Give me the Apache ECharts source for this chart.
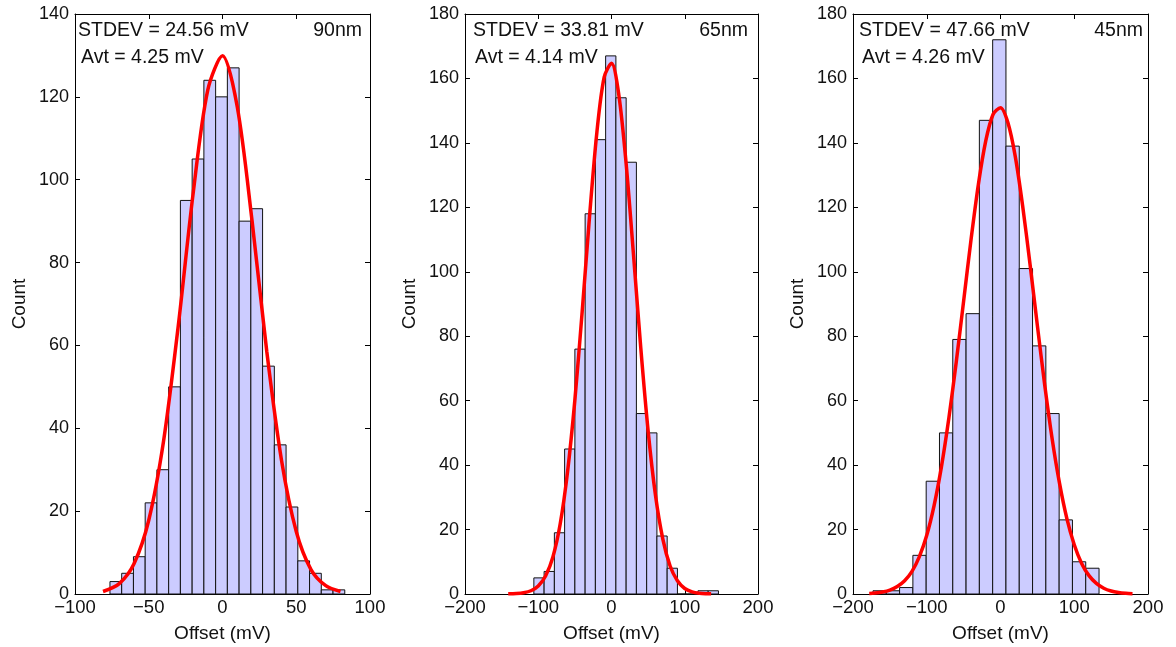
<!DOCTYPE html>
<html><head><meta charset="utf-8">
<script src="https://cdn.jsdelivr.net/npm/echarts@6/dist/echarts.min.js"></script>
<style>html,body{margin:0;padding:0;background:#fff}#c{width:1176px;height:647px}</style>
</head><body><div id="c"></div>
<script>
// ---- data ----
const panelNames = ['90nm', '65nm', '45nm'];
const stdevText = ['STDEV = 24.56 mV', 'STDEV = 33.81 mV', 'STDEV = 47.66 mV'];
const avtText = ['Avt = 4.25 mV', 'Avt = 4.14 mV', 'Avt = 4.26 mV'];
const xAxisTitle = 'Offset (mV)';
const yAxisTitle = 'Count';

const binStart = [-76.3, -106, -172.9];
const binWidth = [7.96, 14.0, 18.03];
const counts90 = [3, 5, 9, 22, 30, 50, 95, 105, 124, 120, 127, 90, 93, 55, 36, 21, 8, 5, 1, 1];
const counts65 = [5, 7, 19, 45, 76, 118, 141, 167, 154, 134, 56, 50, 18, 8, 0, 0, 1, 1];
const counts45 = [1, 1, 2, 12, 35, 50, 79, 87, 147, 172, 139, 101, 77, 56, 23, 10, 8];

const fitX90 = [-81, -70, -60, -50, -40, -30, -20, -10, 0, 10, 20, 30, 40, 50, 60, 70, 80];
const fitY90 = [0.6, 2.5, 7.3, 17.8, 36.8, 64.7, 96.4, 121.6, 129.9, 117.6, 90.2, 58.6, 32.3, 15.1, 5.9, 2.0, 0.6];
const fitX65 = [-141, -130, -120, -110, -100, -90, -80, -70, -60, -50, -40, -30, -20, -10, 0, 10, 20, 30, 40, 50, 60, 70, 80, 90, 100, 110, 120, 130, 136];
const fitY65 = [0.04, 0.13, 0.37, 1.0, 2.5, 5.6, 11.5, 21.8, 37.9, 60.2, 87.7, 117.1, 143.2, 160.4, 164.7, 154.9, 133.5, 105.4, 76.3, 50.6, 30.7, 17.1, 8.7, 4.1, 1.7, 0.68, 0.25, 0.08, 0.04];
const fitX45 = [-178, -170, -160, -150, -140, -130, -120, -110, -100, -90, -80, -70, -60, -50, -40, -30, -20, -10, 0, 10, 20, 30, 40, 50, 60, 70, 80, 90, 100, 110, 120, 130, 140, 150, 160, 170, 179];
const fitY45 = [0.15, 0.30, 0.62, 1.2, 2.3, 4.1, 7.0, 11.6, 18.2, 27.5, 39.6, 54.6, 72.0, 90.9, 109.9, 127.1, 140.6, 148.9, 150.9, 146.3, 135.8, 120.5, 102.4, 83.3, 64.8, 48.2, 34.4, 23.4, 15.3, 9.5, 5.7, 3.3, 1.8, 0.93, 0.47, 0.22, 0.1];

const xMin = [-100, -200, -200];
const xMax = [100, 200, 200];
const xStep = [50, 100, 100];
const yMax = [140, 180, 180];
const yStep = [20, 20, 20];

// ---- chart ----
const counts = [counts90, counts65, counts45];
const fitX = [fitX90, fitX65, fitX45];
const fitY = [fitY90, fitY65, fitY45];

const FONT = '"Liberation Sans", Arial, sans-serif';
const grids = [
  {left: 75, top: 14, width: 295, height: 580},
  {left: 465, top: 14, width: 293, height: 580},
  {left: 853, top: 14, width: 295, height: 580}
];
const fmt = v => String(v).replace('-', '\u2212');

const xAxes = [], yAxes = [], series = [], graphic = [];
const axisLine = {show: true, onZero: false, lineStyle: {color: '#000', width: 1}};
const axisTick = {show: true, inside: true, length: 5, lineStyle: {color: '#000', width: 1}};

for (let i = 0; i < 3; i++) {
  xAxes.push({
    type: 'value', gridIndex: i, position: 'bottom', min: xMin[i], max: xMax[i], interval: xStep[i],
    axisLine, axisTick, splitLine: {show: false},
    axisLabel: {show: true, margin: 4, color: '#111', fontSize: 18.5, fontFamily: FONT, formatter: fmt, showMinLabel: true, showMaxLabel: true},
    name: xAxisTitle, nameLocation: 'middle', nameGap: 30,
    nameTextStyle: {color: '#111', fontSize: 19, fontFamily: FONT}
  });
  xAxes.push({
    type: 'value', gridIndex: i, position: 'top', min: xMin[i], max: xMax[i], interval: xStep[i],
    axisLine, axisTick, splitLine: {show: false}, axisLabel: {show: false}
  });
  yAxes.push({
    type: 'value', gridIndex: i, position: 'left', min: 0, max: yMax[i], interval: yStep[i],
    axisLine, axisTick, splitLine: {show: false},
    axisLabel: {show: true, margin: 6, color: '#111', fontSize: 18, fontFamily: FONT, showMinLabel: true, showMaxLabel: true},
    name: yAxisTitle, nameLocation: 'middle', nameGap: 46, nameRotate: 90,
    nameTextStyle: {color: '#111', fontSize: 19, fontFamily: FONT}
  });
  yAxes.push({
    type: 'value', gridIndex: i, position: 'right', min: 0, max: yMax[i], interval: yStep[i],
    axisLine, axisTick, splitLine: {show: false}, axisLabel: {show: false}
  });

  const bins = counts[i].map((c, k) => [binStart[i] + k * binWidth[i], binStart[i] + (k + 1) * binWidth[i], c]);
  series.push({
    type: 'custom', xAxisIndex: 2 * i, yAxisIndex: 2 * i, data: bins, silent: true,
    renderItem: function (params, api) {
      const p0 = api.coord([api.value(0), api.value(2)]);
      const p1 = api.coord([api.value(1), 0]);
      return {
        type: 'rect',
        shape: {x: p0[0], y: p0[1], width: p1[0] - p0[0], height: p1[1] - p0[1]},
        style: {fill: '#ccccff', stroke: '#111', lineWidth: 1}
      };
    }
  });
  series.push({
    type: 'line', xAxisIndex: 2 * i, yAxisIndex: 2 * i, silent: true,
    data: fitX[i].map((x, k) => [x, fitY[i][k]]),
    symbol: 'none', smooth: 0.3, clip: false,
    lineStyle: {color: '#ff0000', width: 3.5}, z: 5
  });
}

const stdevLeft = [78, 473, 859];
const avtLeft = [81, 475, 862];
const nameRight = [362, 748, 1143];
for (let i = 0; i < 3; i++) {
  graphic.push({type: 'text', x: stdevLeft[i], y: 31, z: 10,
    style: {text: stdevText[i], font: '19.5px ' + FONT, fill: '#111', align: 'left', verticalAlign: 'middle'}});
  graphic.push({type: 'text', x: avtLeft[i], y: 58, z: 10,
    style: {text: avtText[i], font: '19.5px ' + FONT, fill: '#111', align: 'left', verticalAlign: 'middle'}});
  graphic.push({type: 'text', x: nameRight[i], y: 31, z: 10,
    style: {text: panelNames[i], font: '19.5px ' + FONT, fill: '#111', align: 'right', verticalAlign: 'middle'}});
}

const chart = echarts.init(document.getElementById('c'), null, {renderer: 'canvas'});
chart.setOption({
  animation: false,
  backgroundColor: '#fff',
  grid: grids.map(g => Object.assign({outerBoundsMode: 'none', containLabel: false}, g)),
  xAxis: xAxes,
  yAxis: yAxes,
  series: series,
  graphic: graphic
});
</script>
</body></html>
